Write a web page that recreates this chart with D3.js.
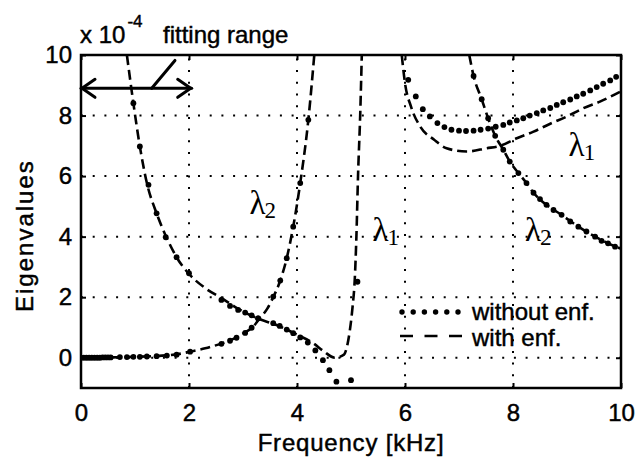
<!DOCTYPE html>
<html>
<head>
<meta charset="utf-8">
<script src="https://cdn.jsdelivr.net/npm/d3@7"></script>
<style>
  body { margin: 0; background: #fff; }
  text { font-family: "Liberation Sans", Arial, Helvetica, sans-serif; fill: #000; }
  .sans { stroke: #000; stroke-width: 0.45px; }
  .greek { font-family: "Liberation Serif", "Times New Roman", serif; }
</style>
</head>
<body>
<svg id="chart" width="642" height="457"></svg>
<script>
// ---- axes ----
const xDomain = [0, 10];
const yDomain = [-1, 10];
const xTicks = [0, 2, 4, 6, 8, 10];
const yTicks = [0, 2, 4, 6, 8, 10];
const xGrid = [2, 4, 6, 8];
const yGrid = [0, 2, 4, 6, 8];

// ---- "with enf." curves: [frequency kHz, eigenvalue x1e-4] ----
const withEnfLambda2Low = [
  [0, 0], [0.5, 0.01], [1.0, 0.03], [1.5, 0.07], [1.8, 0.12], [2.02, 0.2],
  [2.3, 0.31], [2.63, 0.49], [2.89, 0.68], [3.0, 0.8], [3.19, 1.03], [3.31, 1.3],
  [3.45, 1.62], [3.56, 2.0], [3.69, 2.55], [3.81, 3.29], [3.93, 4.33],
  [4.06, 5.77], [4.21, 7.86], [4.32, 10]
];
const withEnfLambda1Low = [
  [0.85, 10], [0.97, 8.41], [1.09, 6.98], [1.22, 5.77], [1.40, 4.77], [1.59, 3.95],
  [1.77, 3.32], [1.99, 2.79], [2.3, 2.3], [2.64, 1.93], [2.88, 1.65], [3.01, 1.52],
  [3.31, 1.27], [3.56, 1.12], [3.81, 0.93], [3.99, 0.77], [4.30, 0.48], [4.49, 0.22],
  [4.70, 0.0], [4.87, 0.1], [4.93, 0.4], [4.98, 0.92], [5.03, 1.7], [5.07, 2.6],
  [5.10, 4], [5.13, 6], [5.17, 8], [5.20, 10]
];
const withEnfLambda1High = [
  [5.94, 10], [6.0, 9.07], [6.11, 8.3], [6.28, 7.64], [6.54, 7.2], [6.77, 6.92],
  [7.14, 6.81], [7.51, 6.92], [7.76, 7.0], [8.07, 7.25], [8.38, 7.47], [8.69, 7.73],
  [9.0, 7.97], [9.3, 8.24], [9.61, 8.46], [10, 8.8]
];
const withEnfLambda2High = [
  [7.19, 10], [7.27, 9.31], [7.42, 8.54], [7.54, 7.91], [7.67, 7.33], [7.82, 6.87],
  [7.94, 6.48], [8.10, 6.10], [8.25, 5.77], [8.38, 5.45], [8.62, 5.05], [8.90, 4.72],
  [9.21, 4.33], [9.52, 4.0], [9.76, 3.78], [10, 3.6]
];

// ---- "without enf." samples: [frequency kHz, eigenvalue x1e-4] ----
const withoutEnfLambda2Low = [
  [0, 0], [0.05, 0], [0.1, 0], [0.15, 0], [0.2, 0], [0.25, 0], [0.3, 0], [0.35, 0],
  [0.4, 0.01], [0.45, 0.01], [0.5, 0.01], [0.55, 0.01], [0.72, 0.02], [0.85, 0.02],
  [0.97, 0.03], [1.09, 0.03], [1.22, 0.04], [1.40, 0.05], [1.59, 0.07], [1.77, 0.1],
  [2.02, 0.2], [2.60, 0.46], [2.76, 0.56], [2.88, 0.66], [3.04, 0.82], [3.16, 0.99],
  [3.28, 1.3], [3.56, 2.02], [3.69, 2.55], [3.81, 3.29], [3.93, 4.33], [4.06, 5.77],
  [4.21, 7.86]
];
const withoutEnfLambda1Low = [
  [0.97, 8.41], [1.09, 6.98], [1.25, 5.71], [1.40, 4.77], [1.57, 3.98], [1.77, 3.32],
  [2.0, 2.79], [2.60, 1.91], [2.76, 1.71], [2.91, 1.58], [3.04, 1.49], [3.16, 1.40],
  [3.28, 1.30], [3.56, 1.14], [3.68, 1.05], [3.81, 0.93], [3.93, 0.81], [4.06, 0.67],
  [4.20, 0.50], [4.34, 0.24], [4.48, -0.08], [4.60, -0.41], [4.73, -0.79],
  [5.0, -0.74], [5.12, 2.51]
];
const withoutEnfLambda1High = [
  [6.06, 9.18], [6.20, 8.63], [6.33, 8.21], [6.46, 7.97], [6.60, 7.75], [6.73, 7.62],
  [6.86, 7.53], [7.0, 7.5], [7.13, 7.49], [7.27, 7.5], [7.40, 7.53], [7.54, 7.57],
  [7.68, 7.63], [7.82, 7.69], [7.94, 7.77], [8.07, 7.84], [8.19, 7.91], [8.31, 8.0],
  [8.44, 8.08], [8.56, 8.17], [8.69, 8.25], [8.81, 8.35], [8.93, 8.44], [9.06, 8.53],
  [9.18, 8.63], [9.30, 8.72], [9.43, 8.83], [9.55, 8.94], [9.67, 9.05], [9.80, 9.16],
  [9.91, 9.28]
];
const withoutEnfLambda2High = [
  [7.27, 9.31], [7.42, 8.54], [7.54, 7.91], [7.67, 7.33], [7.82, 6.87], [7.94, 6.48],
  [8.10, 6.10], [8.25, 5.77], [8.38, 5.45], [8.50, 5.24], [8.62, 5.05], [8.75, 4.88],
  [8.90, 4.72], [9.06, 4.50], [9.21, 4.33], [9.36, 4.17], [9.52, 4.0], [9.64, 3.86],
  [9.76, 3.78], [9.89, 3.67]
];

// ---- annotations ----
const curveLabels = [
  { sub: "2", at: [3.12, 4.75] },
  { sub: "1", at: [5.4, 3.85] },
  { sub: "2", at: [8.22, 3.85] },
  { sub: "1", at: [9.03, 6.65] }
];
const fittingRange = [0, 2.05];
const fittingRangeLevel = 8.9;
const fittingLeader = [[1.31, 8.9], [1.74, 9.82]];
const legendLabels = ["without enf.", "with enf."];

// ---- layout ----
const svg = d3.select("#chart");
const margin = { left: 81, right: 21, top: 55, bottom: 69 };
const W = 642, H = 457;
const x = d3.scaleLinear().domain(xDomain).range([margin.left, W - margin.right]);
const y = d3.scaleLinear().domain(yDomain).range([H - margin.bottom, margin.top]);
const FS = 24;

svg.append("rect").attr("width", W).attr("height", H).attr("fill", "#fff");

svg.append("clipPath").attr("id", "plot-clip")
  .append("rect")
  .attr("x", x(xDomain[0])).attr("y", y(yDomain[1]))
  .attr("width", x(xDomain[1]) - x(xDomain[0]))
  .attr("height", y(yDomain[0]) - y(yDomain[1]));

// dotted grid
const grid = svg.append("g").attr("stroke", "#000").attr("stroke-width", 2)
  .attr("stroke-dasharray", "2,9.7");
grid.selectAll(".gx").data(xGrid).join("line")
  .attr("x1", d => x(d)).attr("x2", d => x(d))
  .attr("y1", y(yDomain[0])).attr("y2", y(yDomain[1]));
grid.selectAll(".gy").data(yGrid).join("line")
  .attr("y1", d => y(d)).attr("y2", d => y(d))
  .attr("x1", x(xDomain[0])).attr("x2", x(xDomain[1]));

// axes with inward ticks
function styleAxis(g) {
  g.select(".domain").remove();
  g.selectAll(".tick line").attr("stroke", "#000").attr("stroke-width", 2);
  g.selectAll(".tick text").attr("font-size", FS).attr("fill", "#000").attr("class", "sans")
    .attr("font-family", "'Liberation Sans', Arial, sans-serif");
}
svg.append("g").attr("transform", `translate(0,${y(yDomain[0])})`)
  .call(d3.axisBottom(x).tickValues(xTicks).tickSizeInner(-5).tickSizeOuter(0).tickPadding(16).tickFormat(d3.format("d")))
  .call(styleAxis);
svg.append("g").attr("transform", `translate(${x(xDomain[0])},0)`)
  .call(d3.axisLeft(y).tickValues(yTicks).tickSizeInner(-5).tickSizeOuter(0).tickPadding(9).tickFormat(d3.format("d")))
  .call(styleAxis);
svg.append("g").attr("transform", `translate(0,${y(yDomain[1])})`)
  .call(d3.axisTop(x).tickValues(xTicks).tickSizeInner(-5).tickSizeOuter(0).tickFormat(""))
  .call(styleAxis);
svg.append("g").attr("transform", `translate(${x(xDomain[1])},0)`)
  .call(d3.axisRight(y).tickValues(yTicks).tickSizeInner(-5).tickSizeOuter(0).tickFormat(""))
  .call(styleAxis);

// curves
const plot = svg.append("g").attr("clip-path", "url(#plot-clip)");
const line = d3.line().x(d => x(d[0])).y(d => y(d[1])).curve(d3.curveMonotoneX);
[withEnfLambda2Low, withEnfLambda1Low, withEnfLambda1High, withEnfLambda2High].forEach(s => {
  plot.append("path").datum(s).attr("d", line)
    .attr("fill", "none").attr("stroke", "#000").attr("stroke-width", 2.6)
    .attr("stroke-dasharray", "10,5");
});
[withoutEnfLambda2Low, withoutEnfLambda1Low, withoutEnfLambda1High, withoutEnfLambda2High].forEach(s => {
  plot.append("g").selectAll("circle").data(s).join("circle")
    .attr("cx", d => x(d[0])).attr("cy", d => y(d[1])).attr("r", 2.9).attr("fill", "#000");
});

// frame
svg.append("rect")
  .attr("x", x(xDomain[0])).attr("y", y(yDomain[1]))
  .attr("width", x(xDomain[1]) - x(xDomain[0]))
  .attr("height", y(yDomain[0]) - y(yDomain[1]))
  .attr("fill", "none").attr("stroke", "#000").attr("stroke-width", 2.5);

// eigenvalue labels
curveLabels.forEach(l => {
  const t = svg.append("text").attr("class", "greek")
    .attr("x", x(l.at[0])).attr("y", y(l.at[1])).attr("font-size", 33);
  t.append("tspan").text("λ");
  t.append("tspan").attr("font-size", 23).attr("dy", 4).attr("dx", -1).text(l.sub);
});

// fitting range arrow
const ay = y(fittingRangeLevel), ax0 = x(fittingRange[0]), ax1 = x(fittingRange[1]);
const arrow = svg.append("g").attr("stroke", "#000").attr("stroke-width", 3)
  .attr("fill", "none").attr("stroke-linecap", "round").attr("stroke-linejoin", "round");
arrow.append("line").attr("x1", ax0).attr("x2", ax1).attr("y1", ay).attr("y2", ay);
arrow.append("path").attr("d", `M${ax0 + 14},${ay - 9}L${ax0 + 1},${ay}L${ax0 + 14},${ay + 9}`);
arrow.append("path").attr("d", `M${ax1 - 14},${ay - 9}L${ax1 - 1},${ay}L${ax1 - 14},${ay + 9}`);
arrow.append("line")
  .attr("x1", x(fittingLeader[0][0])).attr("y1", y(fittingLeader[0][1]))
  .attr("x2", x(fittingLeader[1][0])).attr("y2", y(fittingLeader[1][1]));

// exponent and annotation text
const expo = svg.append("text").attr("class", "sans").attr("x", 80).attr("y", 43).attr("font-size", FS);
expo.append("tspan").text("x 10");
expo.append("tspan").attr("font-size", 17).attr("dy", -16).attr("dx", 2).text("-4");
svg.append("text").attr("class", "sans").attr("x", 163).attr("y", 43).attr("font-size", FS).text("fitting range");

// axis titles
svg.append("text").attr("class", "sans").attr("x", (x(0) + x(10)) / 2).attr("y", 451)
  .attr("text-anchor", "middle").attr("font-size", FS).attr("letter-spacing", 0.8)
  .text("Frequency [kHz]");
svg.append("text").attr("class", "sans").attr("transform", `translate(33,312) rotate(-90)`)
  .attr("text-anchor", "start").attr("font-size", FS).attr("letter-spacing", 2)
  .text("Eigenvalues");

// legend
const lg = svg.append("g");
const legDotXs = d3.range(6).map(i => 402 + i * 11.2);
lg.selectAll("circle").data(legDotXs).join("circle")
  .attr("cx", d => d).attr("cy", 312).attr("r", 2.7).attr("fill", "#000");
lg.append("line").attr("x1", 400).attr("x2", 462).attr("y1", 336).attr("y2", 336)
  .attr("stroke", "#000").attr("stroke-width", 2.6).attr("stroke-dasharray", "13,11.5");
lg.selectAll("text").data(legendLabels).join("text").attr("class", "sans")
  .attr("x", 472).attr("y", (d, i) => 320 + i * 25.5).attr("font-size", FS)
  .text(d => d);
</script>
</body>
</html>
